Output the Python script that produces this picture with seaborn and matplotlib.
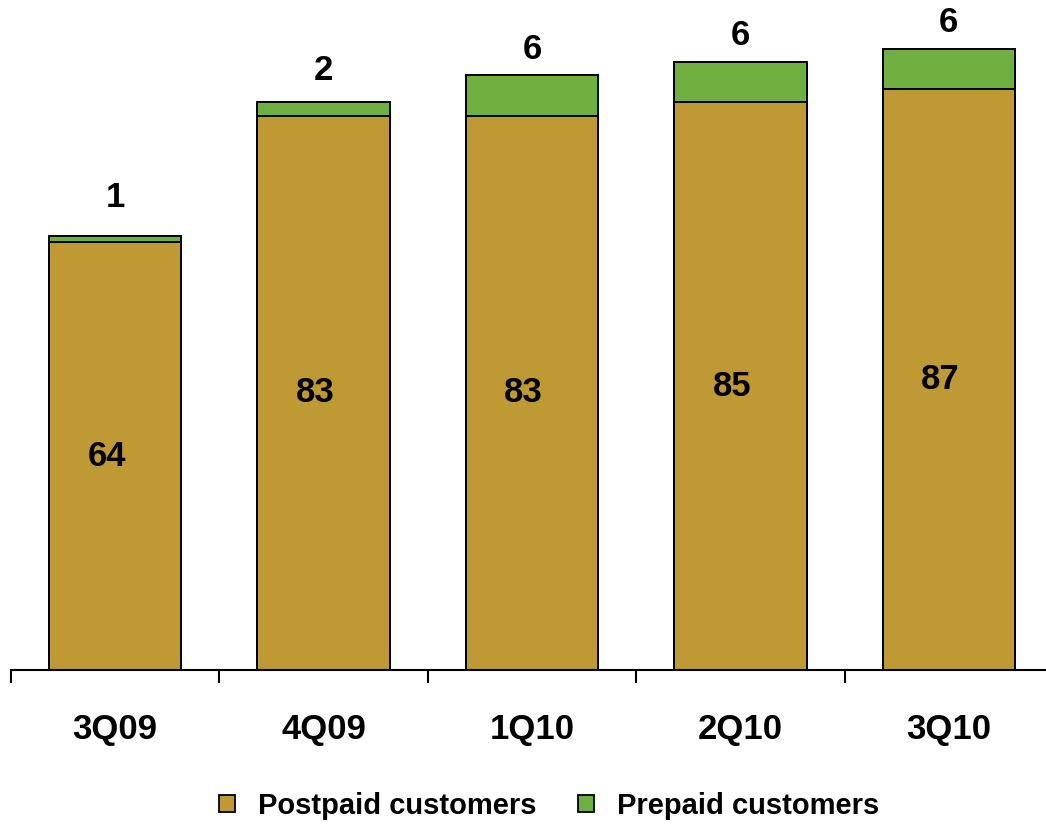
import matplotlib
matplotlib.use("Agg")
import matplotlib.pyplot as plt
import seaborn as sns
import pandas as pd
from matplotlib.patches import Patch

quarters = ["3Q09", "4Q09", "1Q10", "2Q10", "3Q10"]
postpaid = [64, 83, 83, 85, 87]
prepaid = [1, 2, 6, 6, 6]

POST_COLOR = "#BF9933"
PRE_COLOR = "#70B040"

sns.set_theme(style="white")
plt.rcParams["font.family"] = ["Liberation Sans", "DejaVu Sans"]
plt.rcParams["font.weight"] = "bold"
plt.rcParams["text.color"] = "black"
plt.rcParams["xtick.color"] = "black"
plt.rcParams["xtick.labelcolor"] = "black"

df = pd.DataFrame({
    "quarter": quarters,
    "postpaid": postpaid,
    "prepaid": prepaid,
})
df["total"] = df["postpaid"] + df["prepaid"]

fig = plt.figure(figsize=(10.46, 8.24), dpi=100)
ax = fig.add_axes([11 / 1046, 154 / 824, 1042 / 1046, 668 / 824])

# stacked bars: totals (prepaid colour) underneath, postpaid drawn over them
sns.barplot(data=df, x="quarter", y="total", order=quarters, color=PRE_COLOR,
            saturation=1, width=0.635, edgecolor="black", linewidth=1.4, ax=ax)
sns.barplot(data=df, x="quarter", y="postpaid", order=quarters, color=POST_COLOR,
            saturation=1, width=0.635, edgecolor="black", linewidth=1.4, ax=ax)

ax.set_xlim(-0.5, 4.5)
ax.set_ylim(0, 100)
ax.set_xlabel("")
ax.set_ylabel("")
ax.set_yticks([])

for s in ["left", "right", "top"]:
    ax.spines[s].set_visible(False)
ax.spines["bottom"].set_color("black")
ax.spines["bottom"].set_linewidth(1.5)

# category labels at centres, tick marks at category boundaries
ax.set_xticks(range(len(quarters)))
ax.set_xticklabels(quarters, fontsize=25, fontweight="bold", color="black")
ax.tick_params(axis="x", which="major", length=0, pad=31)
ax.set_xticks([i - 0.5 for i in range(len(quarters))], minor=True)
ax.tick_params(axis="x", which="minor", length=9, width=1.5, color="black",
               direction="out", bottom=True)

for i, (p, q) in enumerate(zip(postpaid, prepaid)):
    ax.text(i - 0.04, p / 2, f"{p}", ha="center", va="center",
            fontsize=25, fontweight="bold", color="black")
    # prepaid label sits just above the stack, kept clear of thin segments
    top = max(p + q, p + 2.8)
    ax.annotate(f"{q}", xy=(i, top), xytext=(0, 7), textcoords="offset points",
                ha="center", va="bottom", fontsize=25, fontweight="bold", color="black")

handles = [
    Patch(facecolor=POST_COLOR, edgecolor="black", linewidth=1.3, label="Postpaid customers"),
    Patch(facecolor=PRE_COLOR, edgecolor="black", linewidth=1.3, label="Prepaid customers"),
]
fig.legend(handles=handles, loc="center", bbox_to_anchor=(549 / 1046, 1 - 806 / 824),
           ncol=2, frameon=False, handlelength=0.55, handleheight=0.55,
           handletextpad=0.8, columnspacing=1.4,
           prop={"weight": "bold", "size": 21})

fig.savefig("out.png", dpi=100)
